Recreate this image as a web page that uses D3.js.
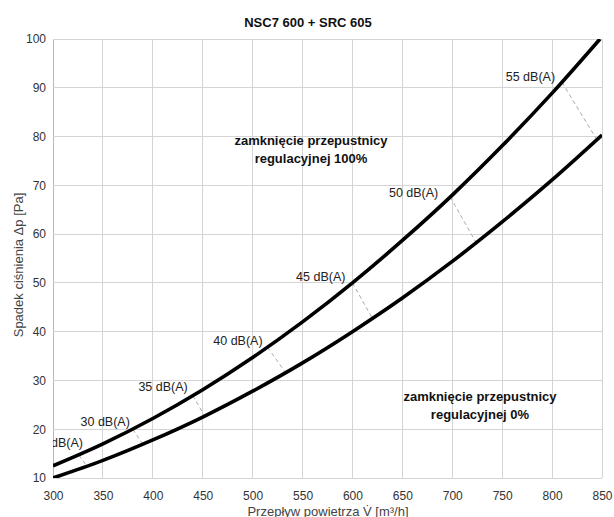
<!DOCTYPE html>
<html><head><meta charset="utf-8">
<script src="https://cdn.jsdelivr.net/npm/d3@7/dist/d3.min.js"></script>
<style>
html,body{margin:0;padding:0;background:#fff;}
svg{display:block;font-family:"Liberation Sans",Arial,sans-serif;}
</style></head>
<body>
<svg id="c" width="614" height="517"></svg>
<script>
// ---- data ----
const title = "NSC7 600 + SRC 605";
const xTicks = [300,350,400,450,500,550,600,650,700,750,800,850];
const yTicks = [10,20,30,40,50,60,70,80,90,100];
// damper 100% (upper curve)
const flowUpper = [300,350,400,450,500,550,600,650,700,750,800,848];
const dpUpper   = [12.5,17.0,22.2,28.1,34.7,42.0,50.0,58.7,68.0,78.1,88.9,100];
// damper 0% (lower curve)
const flowLower = [300,350,400,450,500,550,600,650,700,750,800,850];
const dpLower   = [10.0,13.6,17.8,22.5,27.8,33.6,40.0,46.9,54.4,62.5,71.1,80.3];
// noise iso-lines: level, flow/dp on upper curve, flow/dp on lower curve
const noiseLevels = ["25 dB(A)","30 dB(A)","35 dB(A)","40 dB(A)","45 dB(A)","50 dB(A)","55 dB(A)"];
const noiseFlowUp = [326,380,440,515,600,698,810];
const noiseDpUp   = [14.7,20.0,26.9,36.8,50.0,67.6,91.1];
const noiseFlowLo = [334,390,452,533,620,724,845];
const noiseDpLo   = [12.4,16.9,22.7,31.6,42.7,58.2,79.3];
// label anchor (end of text) in data units
const labelFlow = [330,377,435,510,593,686,803];
const labelDp   = [16.4,20.7,27.8,37.3,50.4,67.6,91.4];
const noteUpper = ["zamknięcie przepustnicy","regulacyjnej 100%"];
const noteLower = ["zamknięcie przepustnicy","regulacyjnej 0%"];
const xTitle = "Przepływ powietrza V\u0307 [m\u00B3/h]";
const yTitle = "Spadek ciśnienia Δp [Pa]";

// ---- layout ----
const L=53, R=602, T=39, B=478;
const svg = d3.select("#c");
const x = d3.scaleLinear().domain([300,850]).range([L,R]);
const y = d3.scaleLinear().domain([10,100]).range([B,T]);

svg.append("defs").append("clipPath").attr("id","clip")
  .append("rect").attr("x",L).attr("y",T).attr("width",R-L).attr("height",B-T);

// grid
const g = svg.append("g");
g.selectAll("line.v").data(xTicks).join("line")
  .attr("x1",d=>x(d)).attr("x2",d=>x(d)).attr("y1",T).attr("y2",B)
  .attr("stroke",d=>d===300?"#b8b8b8":"#d4d4d4").attr("stroke-width",1).attr("shape-rendering","crispEdges");
g.selectAll("line.h").data(yTicks).join("line")
  .attr("x1",L).attr("x2",R).attr("y1",d=>y(d)).attr("y2",d=>y(d))
  .attr("stroke","#d4d4d4").attr("stroke-width",1).attr("shape-rendering","crispEdges");

// axes labels via d3 axes
const ax = svg.append("g").attr("transform",`translate(0,${B})`)
  .call(d3.axisBottom(x).tickValues(xTicks).tickSize(0).tickPadding(13).tickFormat(d3.format("d")));
const ay = svg.append("g").attr("transform",`translate(${L},0)`)
  .call(d3.axisLeft(y).tickValues(yTicks).tickSize(0).tickPadding(7).tickFormat(d3.format("d")));
[ax,ay].forEach(a=>{
  a.select(".domain").remove();
  a.selectAll("text").attr("font-size",12).attr("fill","#333")
    .attr("font-family",'"Liberation Sans",Arial,sans-serif');
});

// noise dashed lines
const plot = svg.append("g").attr("clip-path","url(#clip)");
const noise = noiseLevels.map((l,i)=>({l, x1:noiseFlowUp[i], y1:noiseDpUp[i], x2:noiseFlowLo[i], y2:noiseDpLo[i],
  lx:labelFlow[i], ly:labelDp[i]}));
plot.selectAll("line.n").data(noise).join("line")
  .attr("x1",d=>x(d.x1)).attr("y1",d=>y(d.y1)).attr("x2",d=>x(d.x2)).attr("y2",d=>y(d.y2))
  .attr("stroke","#aaa").attr("stroke-width",1).attr("stroke-dasharray","4,3");

// curves
const line = d3.line().x(d=>x(d[0])).y(d=>y(d[1])).curve(d3.curveMonotoneX);
plot.append("path").datum(flowUpper.map((f,i)=>[f,dpUpper[i]]))
  .attr("d",line).attr("fill","none").attr("stroke","#000").attr("stroke-width",3.6);
plot.append("path").datum(flowLower.map((f,i)=>[f,dpLower[i]]))
  .attr("d",line).attr("fill","none").attr("stroke","#000").attr("stroke-width",3.6);

// noise labels
plot.selectAll("text.n").data(noise).join("text")
  .attr("x",d=>x(d.lx)).attr("y",d=>y(d.ly))
  .attr("text-anchor","end").attr("font-size",12.5).attr("fill","#222").text(d=>d.l);

// notes
function note(lines, cx, cy){
  svg.append("text").attr("x",cx).attr("y",cy).attr("text-anchor","middle")
    .attr("font-size",13).attr("font-weight","bold").attr("fill","#111")
    .selectAll("tspan").data(lines).join("tspan").attr("x",cx).attr("dy",(d,i)=>i?18:0).text(d=>d);
}
note(noteUpper, 311, 145);
note(noteLower, 480, 401);

// titles
svg.append("text").attr("x",308).attr("y",27).attr("text-anchor","middle")
  .attr("font-size",13).attr("font-weight","bold").attr("fill","#111").text(title);
svg.append("text").attr("x",328).attr("y",516).attr("text-anchor","middle")
  .attr("font-size",13).attr("fill","#444").text(xTitle);
svg.append("text").attr("transform",`translate(23,265) rotate(-90)`).attr("text-anchor","middle")
  .attr("font-size",13).attr("fill","#444").text(yTitle);
</script>
</body></html>
